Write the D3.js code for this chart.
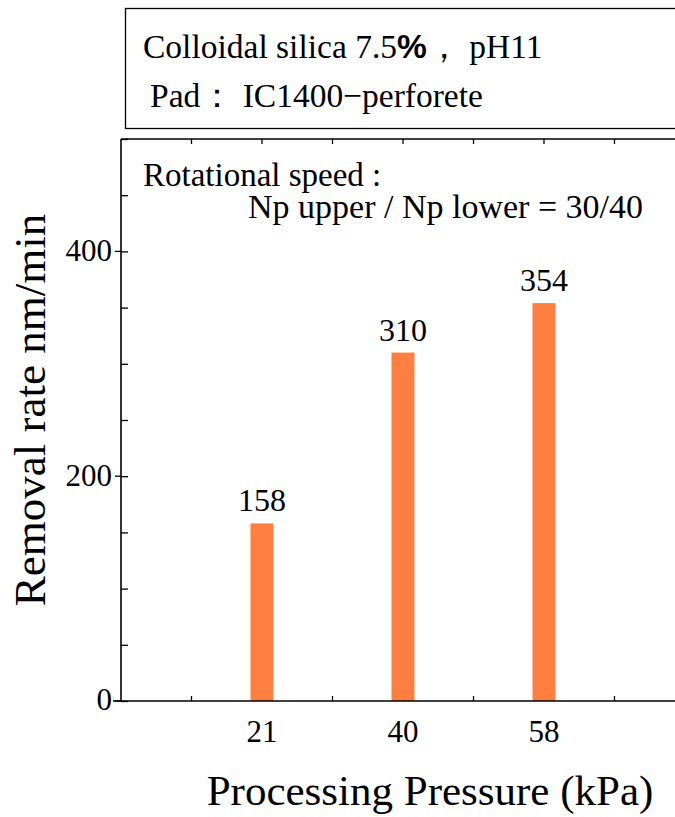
<!DOCTYPE html>
<html>
<head>
<meta charset="utf-8">
<script src="https://cdn.jsdelivr.net/npm/d3@7"></script>
<style>
  html, body { margin: 0; padding: 0; background: #fff; }
  svg { display: block; }
  svg text { font-family: "Liberation Serif", "Times New Roman", serif; fill: #000; }
</style>
</head>
<body>
<svg id="chart" width="675" height="817"></svg>
<script>
// Removal rate versus processing pressure
const pressures = ["21", "40", "58"];
const removalRates = [158, 310, 354];
const yTickLabels = [0, 200, 400];
const yMinorTicks = [0, 50, 100, 150, 200, 250, 300, 350, 400, 450, 500];

const SERIF = "'Liberation Serif', 'Times New Roman', serif";
const svg = d3.select("#chart");

const plotLeft = 121, plotTop = 139, plotBottom = 701;
const step = 141;
const plotRight = plotLeft + step * 4; // frame runs past the visible edge

const x = d3.scaleBand()
  .domain(pressures)
  .range([plotLeft + step / 2, plotLeft + step / 2 + step * pressures.length])
  .padding(0);

const y = d3.scaleLinear().domain([0, 500]).range([plotBottom, plotTop]);

const barW = 23;
const rows = pressures.map((p, i) => ({ p, v: removalRates[i] }));

function label(sel, size) {
  return sel.style("font-family", SERIF).style("font-size", size + "px").attr("fill", "#000");
}

// Condition box
svg.append("rect")
  .attr("x", 125.5).attr("y", 8.5)
  .attr("width", 600).attr("height", 120)
  .attr("fill", "none").attr("stroke", "#000").attr("stroke-width", 1.3);

label(svg.append("text").attr("x", 143).attr("y", 58), 33.5)
  .html('Colloidal silica 7.5<tspan style="font-family:\'Liberation Sans\',Arial,sans-serif;font-weight:bold">%</tspan>，  pH11');

label(svg.append("text").attr("x", 150).attr("y", 107), 33.5)
  .text("Pad：  IC1400−perforete");

// Bars
svg.append("g").selectAll("rect")
  .data(rows)
  .join("rect")
  .attr("x", d => x(d.p) + x.bandwidth() / 2 - barW / 2)
  .attr("y", d => y(d.v))
  .attr("width", barW)
  .attr("height", d => y(0) - y(d.v))
  .attr("fill", "#ff7f41");

// Value labels
label(svg.append("g").selectAll("text")
  .data(rows)
  .join("text")
  .attr("x", d => x(d.p) + x.bandwidth() / 2)
  .attr("y", d => y(d.v) - 12)
  .attr("text-anchor", "middle"), 32)
  .text(d => d.v);

// Frame
const frame = svg.append("g").attr("stroke", "#000").attr("stroke-width", 1.6).attr("fill", "none");
frame.append("line").attr("x1", plotLeft).attr("x2", plotLeft).attr("y1", plotTop).attr("y2", plotBottom);
frame.append("line").attr("x1", plotLeft).attr("x2", plotRight).attr("y1", plotTop).attr("y2", plotTop);
frame.append("line").attr("x1", plotLeft - 8).attr("x2", plotRight).attr("y1", plotBottom).attr("y2", plotBottom);

// Left axis: inward ticks every 50, labels at 0/200/400
const yAxis = d3.axisLeft(y).tickValues(yMinorTicks).tickSize(-7).tickFormat("");
const gy = svg.append("g").attr("transform", `translate(${plotLeft},0)`).call(yAxis);
gy.select(".domain").remove();
gy.selectAll(".tick line").attr("stroke", "#000").attr("stroke-width", 1.3);
svg.append("g").selectAll("line")
  .data(yTickLabels)
  .join("line")
  .attr("x1", plotLeft - 6).attr("x2", plotLeft)
  .attr("y1", d => y(d)).attr("y2", d => y(d))
  .attr("stroke", "#000").attr("stroke-width", 1.3);
label(svg.append("g").selectAll("text")
  .data(yTickLabels)
  .join("text")
  .attr("x", plotLeft - 9)
  .attr("y", d => y(d))
  .attr("dy", "0.3em")
  .attr("text-anchor", "end"), 31)
  .text(d => d);

// Bottom axis: category labels, inward ticks between categories
const xAxis = d3.axisBottom(x).tickSize(0).tickPadding(0);
const gx = svg.append("g").attr("transform", `translate(0,${plotBottom})`).call(xAxis);
gx.select(".domain").remove();
label(gx.selectAll(".tick text").attr("y", 41).attr("dy", 0), 31);

const bounds = d3.range(pressures.length + 1).map(i => x.range()[0] + i * step);
svg.append("g").selectAll("line")
  .data(bounds)
  .join("line")
  .attr("x1", d => d).attr("x2", d => d)
  .attr("y1", plotBottom).attr("y2", plotBottom - 5)
  .attr("stroke", "#000").attr("stroke-width", 1.3);

// Top axis: inward ticks every half category
const topTicks = d3.range(pressures.length * 2 + 1).map(i => x.range()[0] + i * step / 2);
svg.append("g").selectAll("line")
  .data(topTicks)
  .join("line")
  .attr("x1", d => d).attr("x2", d => d)
  .attr("y1", plotTop).attr("y2", plotTop + 5)
  .attr("stroke", "#000").attr("stroke-width", 1.3);

// Annotation
label(svg.append("text").attr("x", 143).attr("y", 186), 33)
  .text("Rotational speed :");
label(svg.append("text").attr("x", 248).attr("y", 218), 34)
  .text("Np upper / Np lower = 30/40");

// Axis titles
label(svg.append("text")
  .attr("transform", "translate(45,410) rotate(-90)")
  .attr("text-anchor", "middle"), 45)
  .text("Removal rate  nm/min");

label(svg.append("text")
  .attr("x", 430).attr("y", 805)
  .attr("text-anchor", "middle"), 43)
  .text("Processing Pressure (kPa)");
</script>
</body>
</html>
